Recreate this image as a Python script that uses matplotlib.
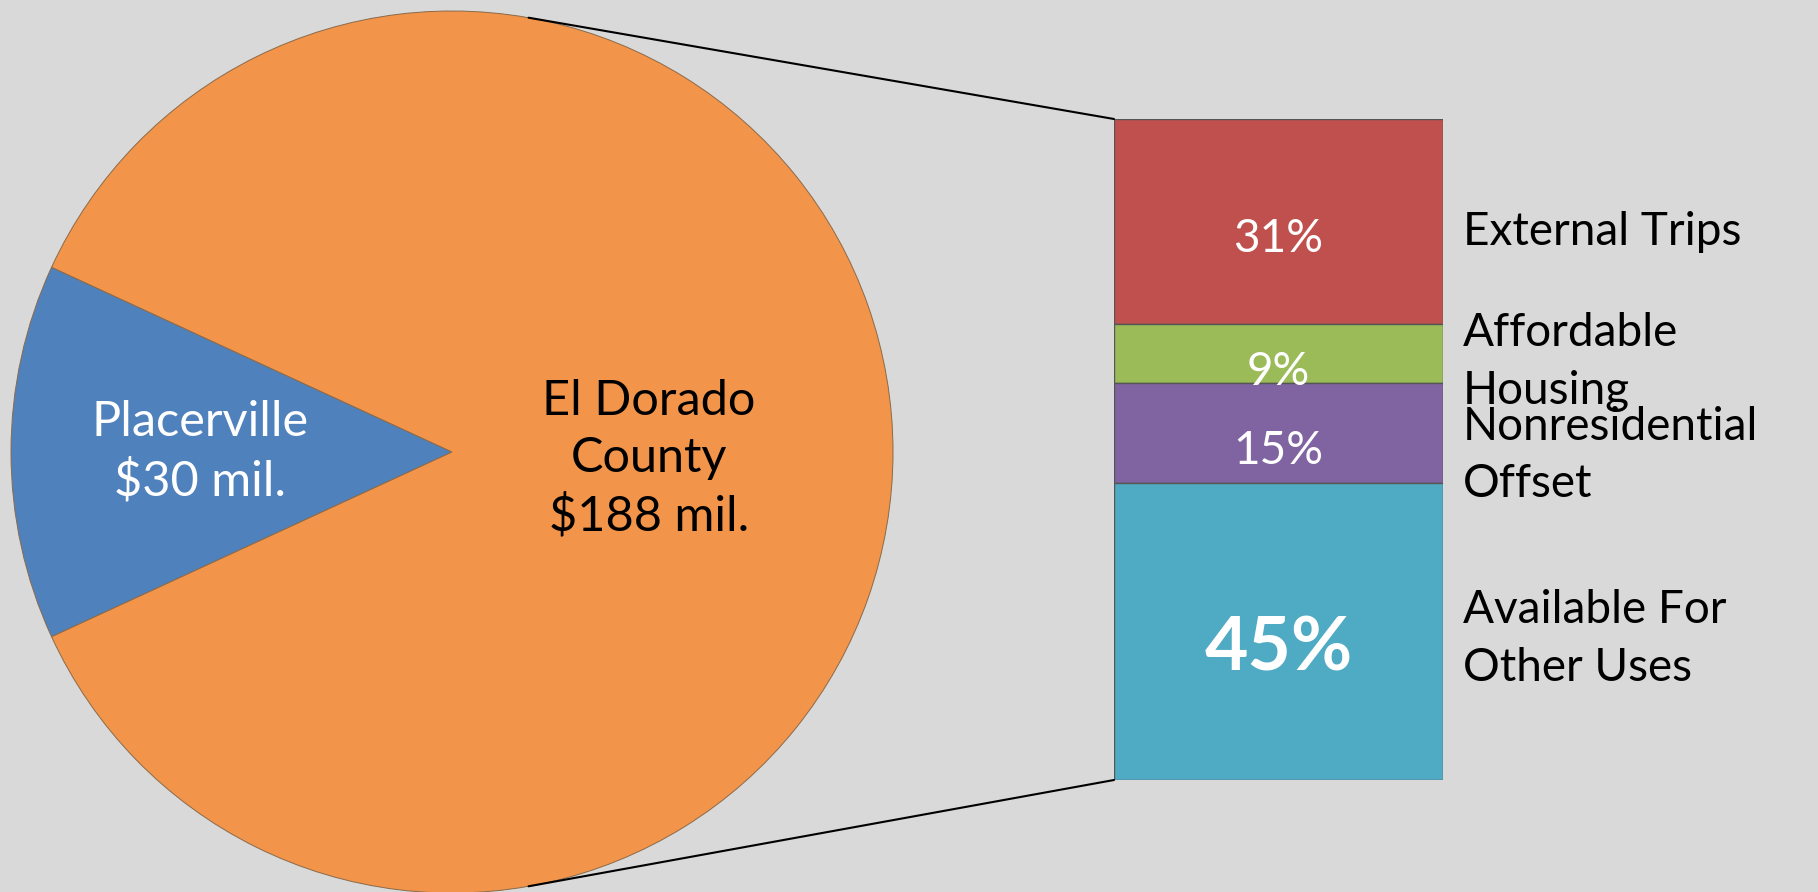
import numpy as np
import matplotlib.pyplot as plt
from matplotlib.patches import ConnectionPatch

# pie data
pie_labels = ["Placerville\n$30 mil.", "El Dorado\nCounty\n$188 mil."]
pie_values = [30, 188]
pie_colors = ["#4F81BD", "#F29449"]
pie_text_colors = ["white", "black"]

# bar data (top to bottom)
bar_labels = ["External Trips", "Affordable\nHousing", "Nonresidential\nOffset", "Available For\nOther Uses"]
bar_values = [31, 9, 15, 45]
bar_pct = ["31%", "9%", "15%", "45%"]
bar_colors = ["#C0504D", "#9BBB59", "#8064A2", "#4FAAC4"]

bg = "#D9D9D9"
plt.rcParams['font.family'] = ['Lato', 'DejaVu Sans']

W, H = 1818, 892
fig = plt.figure(figsize=(W / 100, H / 100), dpi=100, facecolor=bg)

# pie axes: center (452, 452) px from top-left, radius 441 px
cx, cy, r = 452, 452, 441
ax_pie = fig.add_axes([(cx - r) / W, (H - cy - r) / H, 2 * r / W, 2 * r / H])
ax_pie.set_facecolor(bg)
start = 180 - pie_values[0] / sum(pie_values) * 360 / 2
wedges, _ = ax_pie.pie(pie_values, colors=pie_colors, startangle=start, radius=1,
                       wedgeprops=dict(edgecolor="#8a6a4a", linewidth=0.7))
ax_pie.set_xlim(-1, 1)
ax_pie.set_ylim(-1, 1)
ax_pie.axis("off")

# pie labels
ax_pie.text(-0.571, 0.0, pie_labels[0], ha="center", va="center", fontsize=35,
            color=pie_text_colors[0], linespacing=1.36)
ax_pie.text(0.447, -0.015, pie_labels[1], ha="center", va="center", fontsize=35,
            color=pie_text_colors[1], linespacing=1.36)

# bar axes: x 1114..1443, y 119..780 px
bx0, bx1, by0, by1 = 1114, 1443, 119, 780
ax_bar = fig.add_axes([bx0 / W, (H - by1) / H, (bx1 - bx0) / W, (by1 - by0) / H])
ax_bar.set_xlim(0, 1)
ax_bar.set_ylim(0, 100)
ax_bar.axis("off")

bottoms = 100 - np.cumsum(bar_values)
label_shift = [-1.6, -1.3, -3.4, -1.2]
for i, v in enumerate(bar_values):
    ax_bar.bar(0.5, v, width=1, bottom=bottoms[i], color=bar_colors[i],
               edgecolor="#555555", linewidth=1.0)
    mid = bottoms[i] + v / 2
    big = (i == 3)
    ax_bar.text(0.5, mid - 2.7, bar_pct[i], ha="center", va="center",
                color="white", fontsize=54 if big else 33,
                fontweight="bold" if big else "normal")
    ax_bar.text(1.06, mid + label_shift[i], bar_labels[i], ha="left", va="center",
                fontsize=33, color="black", linespacing=1.46)

# connector lines
ang = np.deg2rad(80)
for sgn, yb in [(1, 1), (-1, 0)]:
    con = ConnectionPatch(xyA=(np.cos(ang), sgn * np.sin(ang)), coordsA="data", axesA=ax_pie,
                          xyB=(0, yb), coordsB="axes fraction", axesB=ax_bar,
                          color="black", linewidth=1.5)
    fig.add_artist(con)

fig.savefig("out.png", dpi=100, facecolor=bg)
